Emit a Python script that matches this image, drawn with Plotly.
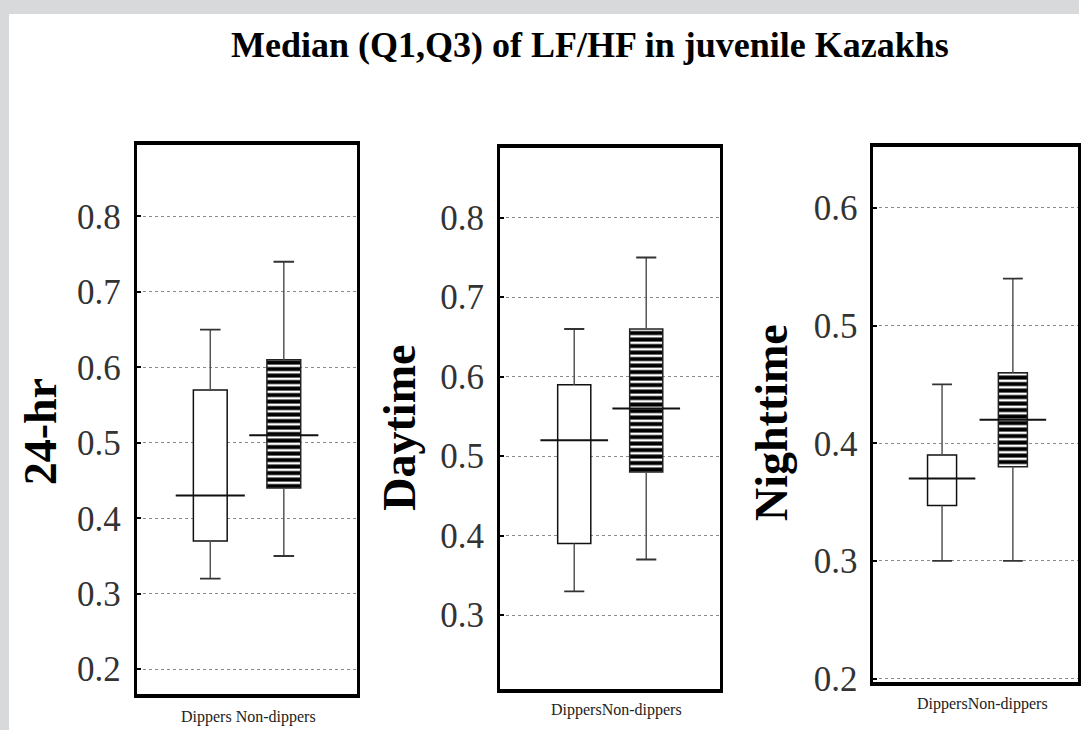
import plotly.graph_objects as go

# ---------------- data ----------------
groups = ["Dippers", "Non-dippers"]
panel_titles = ["24-hr", "Daytime", "Nighttime"]
group_labels = ["Dippers Non-dippers", "DippersNon-dippers", "DippersNon-dippers"]
chart_title = "Median (Q1,Q3) of LF/HF in juvenile Kazakhs"

hr24_lower = [0.32, 0.35]
hr24_q1 = [0.37, 0.44]
hr24_median = [0.43, 0.51]
hr24_q3 = [0.57, 0.61]
hr24_upper = [0.65, 0.74]

day_lower = [0.33, 0.37]
day_q1 = [0.39, 0.48]
day_median = [0.52, 0.56]
day_q3 = [0.59, 0.66]
day_upper = [0.66, 0.75]

night_lower = [0.30, 0.30]
night_q1 = [0.347, 0.38]
night_median = [0.37, 0.42]
night_q3 = [0.39, 0.46]
night_upper = [0.45, 0.54]

# ---------------- layout geometry ----------------
# positions are given in pixels of the 1081x731 target picture and converted
# to paper fractions, so they stay put whatever the page height turns out to be
W, H = 1081, 731
FIG_H = 747
panels = [
    dict(stats=(hr24_lower, hr24_q1, hr24_median, hr24_q3, hr24_upper),
         xpx=(137, 358), ypx=(145, 695), xr=(-1.0, 2.0), yr=(0.167, 0.895),
         bw=0.46, title_xy=(40, 432), lab_xy=(249, 718)),
    dict(stats=(day_lower, day_q1, day_median, day_q3, day_upper),
         xpx=(501, 721), ypx=(148, 690), xr=(-1.03, 2.02), yr=(0.207, 0.888),
         bw=0.46, title_xy=(400, 428), lab_xy=(618, 711)),
    dict(stats=(night_lower, night_q1, night_median, night_q3, night_upper),
         xpx=(875, 1080), ypx=(147, 683), xr=(-0.97, 1.92), yr=(0.197, 0.652),
         bw=0.41, title_xy=(773, 423), lab_xy=(984, 705)),
]

SERIF = "Liberation Serif, Times New Roman, serif"
fig = go.Figure()
layout_axes = {}
annotations = []

for i, p in enumerate(panels):
    lower, q1, med, q3, upper = p["stats"]
    xs = list(range(len(groups)))
    suffix = "" if i == 0 else str(i + 1)
    xa, ya = "x" + suffix, "y" + suffix

    # boxes (Q1..Q3)
    fig.add_trace(go.Bar(
        x=xs, y=[b - a for a, b in zip(q1, q3)], base=q1, width=p["bw"],
        xaxis=xa, yaxis=ya, showlegend=False, hoverinfo="skip",
        marker=dict(color="white",
                    line=dict(color=["#111", "#222"], width=1.5),
                    pattern=dict(shape=["", "-"], fgcolor="black", bgcolor="white",
                                 fgopacity=1, size=6.5, solidity=0.62)),
    ))

    # whiskers and caps
    cw = 0.14
    wx, wy = [], []
    for j in xs:
        wx += [j, j, None, j, j, None]
        wy += [q3[j], upper[j], None, q1[j], lower[j], None]
    fig.add_trace(go.Scatter(x=wx, y=wy, mode="lines", xaxis=xa, yaxis=ya,
                             line=dict(color="#555", width=1.5),
                             showlegend=False, hoverinfo="skip"))
    cx, cy = [], []
    for j in xs:
        cx += [j - cw, j + cw, None, j - cw, j + cw, None]
        cy += [upper[j], upper[j], None, lower[j], lower[j], None]
    fig.add_trace(go.Scatter(x=cx, y=cy, mode="lines", xaxis=xa, yaxis=ya,
                             line=dict(color="#333", width=1.8),
                             showlegend=False, hoverinfo="skip"))

    # medians
    mw = 0.47
    mx, my = [], []
    for j in xs:
        mx += [j - mw, j + mw, None]
        my += [med[j], med[j], None]
    fig.add_trace(go.Scatter(x=mx, y=my, mode="lines", xaxis=xa, yaxis=ya,
                             line=dict(color="#111", width=2),
                             showlegend=False, hoverinfo="skip"))

    x0, x1 = p["xpx"]
    y0, y1 = p["ypx"]
    layout_axes["xaxis" + suffix] = dict(
        domain=[x0 / W, x1 / W], range=list(p["xr"]), anchor=ya,
        showline=True, linewidth=4, linecolor="black", mirror=True,
        showgrid=False, zeroline=False, showticklabels=False, ticks="",
        fixedrange=True)
    layout_axes["yaxis" + suffix] = dict(
        domain=[1 - y1 / H, 1 - y0 / H], range=list(p["yr"]), anchor=xa,
        showline=True, linewidth=3, linecolor="black", mirror=True,
        showgrid=True, gridcolor="#8a8a8a", griddash="dot", gridwidth=1,
        zeroline=False, ticks="inside", ticklen=4, tickwidth=2, tickcolor="black",
        tick0=0, dtick=0.1, tickformat=".1f", ticklabelstandoff=6,
        tickfont=dict(family=SERIF, size=35, color="#333"), fixedrange=True)

    tx, ty = p["title_xy"]
    annotations.append(dict(text="<b>%s</b>" % panel_titles[i], textangle=-90,
                            x=tx / W, y=1 - ty / H, xref="paper", yref="paper",
                            xanchor="center", yanchor="middle", showarrow=False,
                            font=dict(family=SERIF, size=46, color="black")))
    lx, ly = p["lab_xy"]
    annotations.append(dict(text=group_labels[i], x=lx / W, y=1 - ly / H,
                            xref="paper", yref="paper", xanchor="center",
                            yanchor="middle", showarrow=False,
                            font=dict(family=SERIF, size=16, color="#222")))

annotations.append(dict(text="<b>%s</b>" % chart_title, x=591 / W, y=1 - 45 / H,
                        xref="paper", yref="paper", xanchor="center",
                        yanchor="middle", showarrow=False,
                        font=dict(family=SERIF, size=36, color="black")))

fig.update_layout(
    width=W, height=FIG_H, autosize=False, margin=dict(l=0, r=0, t=0, b=0),
    paper_bgcolor="white", plot_bgcolor="white", barmode="overlay",
    annotations=annotations,
    shapes=[
        dict(type="rect", xref="paper", yref="paper", x0=0, x1=9 / W, y0=0, y1=1,
             fillcolor="#d8d9db", line=dict(width=0), layer="above"),
        dict(type="rect", xref="paper", yref="paper", x0=0, x1=1, y0=1 - 14 / H, y1=1,
             fillcolor="#d8d9db", line=dict(width=0), layer="above"),
    ],
    **layout_axes,
)

fig.write_html(
    "out.html",
    config={"responsive": False, "displayModeBar": False, "staticPlot": True},
    post_script="document.body.style.margin='0';document.body.style.overflow='hidden';",
)
